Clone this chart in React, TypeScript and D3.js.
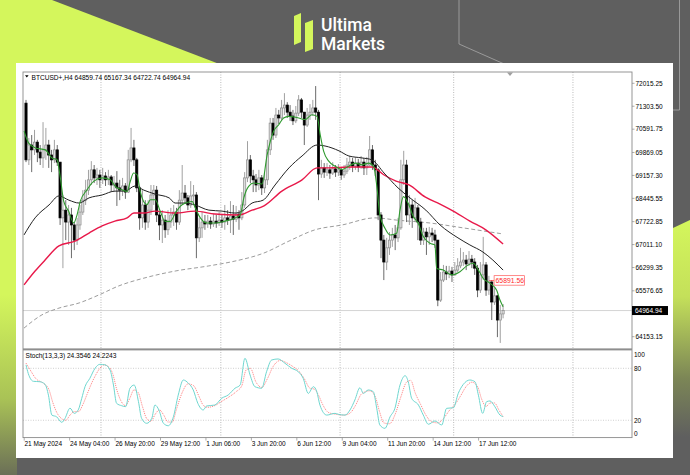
import React from "react";
import * as d3 from "d3";

const W = 690;
const H = 475;

// ---------- data ----------
const symbolLabel = "BTCUSD+,H4";
const lastOHLC = [64859.74, 65167.34, 64722.74, 64964.94];
const stochLabel = "Stoch(13,3,3) 24.3546 24.2243";
const markedLevel = 65891.56;
const firstOpen = 71400;

const closes = [
  69640, 70100, 69950, 70190, 69880, 69700, 69950, 70100, 69790, 69640,
  69950, 69570, 67840, 68080, 67710, 67930, 67620, 67150, 67620, 68020,
  68390, 68700, 69020, 69330, 69080, 69170, 69020, 69140, 69020, 69110,
  68860, 68920, 68770, 68700, 68830, 68640, 69640, 70010, 69640, 68770,
  67840, 68240, 67710, 68080, 68550, 68700, 67930, 67620, 67770, 67470,
  67710, 67930, 68020, 67710, 68390, 68610, 68460, 68240, 68520, 68550,
  67220, 67530, 67710, 67650, 67740, 67650, 67740, 67680, 67770, 67710,
  67840, 67770, 67900, 67800, 67960, 67840, 68240, 69080, 69640, 69140,
  69020, 68860, 69080, 68770, 69020, 69950, 70780, 70410, 71030, 70940,
  71250, 71340, 71120, 71000, 70850, 71090, 71500, 71120, 70720, 71030,
  71120, 71250, 71120, 69200, 69390, 69260, 69330, 69230, 69360, 69260,
  69330, 69170, 69290, 69480, 69570, 69450, 69540, 69420, 69570, 69390,
  69480, 69950, 69480, 69330, 67930, 67150, 66470, 66910, 67150, 67310,
  67220, 67530, 69020, 69480, 67930, 68240, 67840, 68150, 67710, 67150,
  67400, 67250, 67370, 67310, 67150, 65290, 65910, 66160, 66100, 66190,
  66070, 66220, 66350, 66470, 66530, 66410, 66560, 66470, 66280, 65600,
  66070, 66380, 65600, 65850, 65230, 65420, 64670, 64859.74, 64964.94,
];

const highs = [
  71500, 70320, 70410, 70570, 70260, 70100, 70810, 70630, 70260, 69950,
  70260, 70100, 69570, 68550, 68390, 68240, 68150, 67710, 67840, 68240,
  68700, 69020, 69330, 69600, 69480, 69390, 69330, 69390, 69260, 69330,
  69170, 69140, 69290, 69020, 69080, 68920, 69950, 70630, 70260, 69700,
  68830, 68700, 68390, 68390, 68860, 68860, 68830, 68020, 68080, 67930,
  68080, 68150, 68240, 68150, 68700, 69480, 68860, 68550, 68980, 68860,
  68640, 67840, 68020, 67930, 67930, 67870, 67960, 67930, 68020, 67960,
  68240, 68080, 68360, 68240, 68210, 68080, 68640, 69260, 70220, 69790,
  69330, 69200, 69330, 69170, 69260, 70260, 70940, 70940, 71250, 71190,
  71500, 71710, 71430, 71340, 71190, 71310, 71650, 71560, 71120, 71250,
  71370, 71500, 71930, 71190, 69640, 69540, 69540, 69480, 69570, 69480,
  69510, 69420, 69480, 69700, 69760, 69700, 69730, 69670, 69760, 69700,
  69730, 70380, 70100, 69640, 69390, 68020, 67310, 67220, 67400, 67530,
  67620, 67840, 69640, 69920, 69640, 68550, 68390, 68460, 68240, 67840,
  67530, 67530, 67560, 67530, 67470, 67150, 66160, 66380, 66350, 66350,
  66320, 66470, 66590, 66910, 66780, 66690, 66810, 66690, 66590, 66380,
  66470, 67250, 66470, 66040, 65910, 65660, 65450, 65140, 65167.34,
];

const lows = [
  69570, 69480, 69260, 69790, 69570, 69480, 69390, 69640, 69390, 69260,
  69540, 69450, 67620, 66280, 67150, 67000, 66590, 66840, 67000, 67470,
  67930, 68240, 68550, 68860, 68920, 68860, 68770, 68890, 68830, 68860,
  68640, 68640, 68210, 68390, 68520, 68430, 68610, 69570, 69450, 68640,
  67470, 67530, 67470, 67530, 67930, 68240, 67710, 67150, 67060, 67220,
  67310, 67530, 67590, 67470, 67620, 68240, 68270, 68080, 68150, 68240,
  66590, 67090, 67220, 67470, 67530, 67500, 67560, 67530, 67590, 67530,
  67470, 67620, 67370, 67310, 67710, 67470, 67770, 68150, 68950, 68920,
  68640, 68640, 68700, 68550, 68610, 68860, 69790, 70260, 70320, 70750,
  70880, 71030, 70940, 70850, 70720, 70780, 71000, 70940, 70100, 70660,
  70880, 71000, 70880, 68390, 69080, 69080, 69140, 69050, 69170, 69110,
  69140, 69020, 69080, 69200, 69330, 69260, 69330, 69260, 69360, 69170,
  69170, 69450, 69330, 69140, 67770, 66590, 65910, 66220, 66690, 66940,
  66840, 67090, 67470, 68860, 67710, 67620, 67530, 67710, 67150, 67000,
  67000, 66690, 67000, 67090, 66910, 65100, 65230, 65850, 65910, 65970,
  65850, 66040, 66160, 66280, 66350, 66220, 66350, 66280, 66070, 65380,
  65510, 65910, 65420, 65450, 64670, 65140, 64140, 63960, 64722.74,
];

// moving averages: [bar index, price]
const greenMA: [number, number][] = [
  [-0.7, 70540], [0.95, 70160], [3.3, 70010], [6.8, 69950], [9.15, 69700], [10.9, 69650],
  [12.1, 69080], [13.3, 68350], [15, 68050], [16.8, 67680], [18, 67940], [19.1, 68350],
  [21.5, 68710], [23.8, 68970], [26.8, 69080], [29.7, 69020], [31.4, 68820], [33.8, 68710],
  [35.6, 68660], [36.7, 68970], [37.9, 69230], [39.1, 69180], [40.2, 68660], [41.4, 68350],
  [42.6, 68250], [43.8, 68400], [45.5, 68400], [47.3, 68040], [49, 67730], [50.8, 67730],
  [52.6, 67990], [54.3, 68200], [56.1, 68300], [58.5, 68350], [59.6, 68150], [61.4, 67840],
  [63.7, 67680], [66.7, 67680], [69.6, 67730], [71.9, 67780], [73.7, 67840], [75.5, 67940],
  [76.7, 68460], [78.4, 68820], [80.2, 68920], [83.1, 68890], [84.9, 69790], [87.2, 70530],
  [89, 70730], [90.7, 70940], [92.5, 70990], [96, 70940], [98.3, 70890], [100.7, 71040],
  [102.5, 70990], [103.6, 70420], [104.8, 69910], [106.6, 69600], [108.9, 69440], [111.3, 69340],
  [113.6, 69440], [116, 69540], [118.3, 69490], [120.7, 69540], [122.4, 69440], [123.6, 68770],
  [124.6, 67930], [126.4, 67520], [128.2, 67310], [130.5, 67360], [131.7, 68080], [132.9, 68500],
  [134.6, 68290], [136.4, 67880], [138.1, 67670], [139.9, 67260], [142.3, 67050], [144, 67000],
  [144.6, 66270], [146.9, 66220], [149.9, 66070], [152.8, 66170], [155.2, 66350], [157.5, 66430],
  [159.3, 66220], [161, 65960], [163.4, 65810], [165.7, 65600], [166.9, 65290], [168, 65080],
];

const blackMA: [number, number][] = [
  [-0.7, 67310], [3.2, 67840], [8.1, 68240], [11.6, 68520], [15.1, 68390], [18.7, 68300],
  [22.2, 68460], [26.8, 68550], [31.3, 68670], [34.9, 68670], [38.4, 68830], [41.5, 68700],
  [45.4, 68580], [50.4, 68460], [52.5, 68300], [56, 68300], [59.5, 68240], [64.4, 68080],
  [69, 68050], [73.6, 67990], [76.1, 68050], [79.6, 68300], [83.5, 68390], [87.7, 68860],
  [92.6, 69390], [97.2, 69760], [102.5, 70100], [105.3, 70070], [110.2, 69920], [113.7, 69760],
  [118.3, 69700], [121.8, 69640], [126.1, 69230], [131, 68770], [135.2, 68460], [140.8, 68080],
  [145.8, 67620], [152.1, 67220], [156.3, 67000], [160.9, 66780], [164.4, 66530], [168, 66220],
];

const redMA: [number, number][] = [
  [-0.7, 65760], [3.2, 66190], [6.7, 66530], [11.6, 66970], [17.3, 67120], [22.2, 67370],
  [26.8, 67590], [31.3, 67740], [35.6, 67840], [38, 67990], [41.5, 67990], [45.4, 68050],
  [52.5, 67990], [59.5, 68050], [66.5, 67960], [75, 67930], [79.6, 68080], [83.8, 68210],
  [90.1, 68670], [97.2, 69020], [102.5, 69390], [106.7, 69390], [113.7, 69420], [121.8, 69420],
  [126.1, 69170], [130.3, 68980], [134.9, 68860], [140.5, 68490], [145.8, 68270], [151.1, 68020],
  [156.3, 67740], [161.9, 67470], [168, 67030],
];

const grayMA: [number, number][] = [
  [-0.7, 64420], [5.6, 64830], [11.6, 65040], [18.7, 65200], [25.7, 65450], [32.7, 65730],
  [41.5, 65970], [52.5, 66190], [64.4, 66350], [73.6, 66500], [83.8, 66750], [92.6, 67120],
  [101.8, 67470], [111.3, 67620], [122.9, 67840], [130.6, 67770], [142.3, 67680], [153.9, 67530],
  [168, 67340],
];

// stochastic: [bar index, value]
const stochMain: [number, number][] = [
  [0, 84], [0.8, 74], [2.6, 65], [4.9, 64.5], [6.7, 61.5], [7.9, 49], [9.1, 26], [10.8, 24],
  [12.6, 17.6], [13.7, 22], [15.5, 34], [17, 28], [18.4, 32], [19.6, 45], [20.8, 59], [22.5, 68.5],
  [24.3, 80], [26, 84.6], [27.8, 84], [29.6, 78], [30.8, 60.7], [31.9, 39.6], [33.7, 36.8],
  [35.1, 35.7], [36.6, 57], [38.1, 60.7], [39.6, 41.5], [40.7, 22.3], [42.5, 16.5], [44.3, 22.3],
  [45.4, 37.6], [46.8, 31.9], [48.4, 16.5], [50.1, 13.7], [51.9, 24], [53.6, 49], [55.4, 66.5],
  [57.2, 62.7], [58.9, 55], [60.5, 39.6], [62.4, 31.9], [63.6, 36.5], [66.5, 37.6], [68.9, 45.4],
  [71.2, 49.2], [73.6, 57], [75.4, 60.7], [77.1, 91.6], [78.9, 72.3], [80.6, 58.8], [83, 57],
  [84.7, 76], [86.5, 89.6], [88.8, 90.8], [91.2, 85.8], [93.6, 80], [95.9, 76], [97.6, 68.5],
  [99.4, 51], [101.2, 58.8], [102.4, 53], [103.5, 37.6], [105.9, 26], [108.8, 28], [110, 26.9],
  [112.3, 26], [114.1, 31.9], [115.8, 43.4], [117.6, 57.6], [118.8, 51], [120.5, 55], [122.3, 53],
  [123.5, 33.8], [124.6, 14.5], [126.4, 10.7], [128.2, 24], [129.9, 33.8], [131.7, 60.7],
  [133.5, 71.5], [134.6, 64.5], [135.8, 45.4], [138.2, 37.6], [139.9, 26], [141.7, 15.4],
  [144, 19.2], [146.4, 14.5], [148.1, 33.8], [150.5, 34.5], [152.2, 51], [154, 61.5], [156.3, 66.5],
  [158.1, 64.5], [159.3, 49], [160.8, 28], [162.2, 41.5], [163.4, 42.3], [165.1, 35.7],
  [166.9, 26], [168, 24.35],
];

const stochSignal: [number, number][] = [
  [0, 86], [1.5, 78], [3.5, 68], [6, 63], [8, 56], [9.5, 40], [11, 28], [12.5, 22], [14, 20],
  [15.5, 26], [17, 30], [18.5, 30], [20, 38], [21.5, 50], [23, 62], [24.5, 72], [26, 80],
  [27.5, 84], [29, 82], [30.5, 74], [32, 55], [33.5, 42], [35, 37], [36.5, 45], [38, 55],
  [39.5, 52], [41, 36], [42.5, 22], [44, 19], [45.5, 27], [47, 32], [48.5, 26], [50, 18],
  [51.5, 18], [53, 33], [55, 52], [57, 62], [59, 60], [61, 47], [62.5, 37], [64, 35], [66.5, 37],
  [69, 42], [71.5, 47], [74, 53], [76, 60], [77.5, 78], [79, 80], [81, 64], [83, 58], [85, 68],
  [87, 82], [89.5, 89], [92, 86], [94, 82], [96, 77], [98, 68], [100, 57], [101.5, 56], [103, 49],
  [104.5, 38], [106.5, 29], [109, 27], [112, 26], [114, 28], [116, 37], [118, 50], [119.5, 53],
  [121, 54], [123, 47], [124.5, 30], [126, 17], [128, 16], [130, 27], [132, 47], [134, 64],
  [135.5, 66], [137, 52], [139, 38], [141, 25], [143, 18], [145, 17], [147, 22], [149, 31],
  [151, 38], [153, 48], [155, 59], [157, 64], [159, 59], [160.5, 44], [162, 36], [163.5, 40],
  [165, 40], [166.5, 32], [168, 24.22],
];

const priceTicks = [
  72015.25, 71303.5, 70591.75, 69869.05, 69157.3, 68445.55, 67722.85, 67011.1, 66299.35,
  65576.65, 64153.15,
];
const timeLabels: [number, string][] = [
  [0, "21 May 2024"], [16, "24 May 04:00"], [32, "26 May 20:00"], [48, "29 May 12:00"],
  [64, "1 Jun 06:00"], [80, "3 Jun 20:00"], [96, "6 Jun 12:00"], [112, "9 Jun 04:00"],
  [128, "11 Jun 20:00"], [144, "14 Jun 12:00"], [160, "17 Jun 12:00"],
];
const gridBars = [26.4, 68.6, 110.6, 150.6, 192.6];
const stochLevels = [80, 20];
const stochAxis = [100, 80, 20, 0];

// ---------- layout ----------
const plotL = 23;
const plotR = 632;
const plotT = 72;
const mainB = 349;
const stochT = 351;
const stochB = 437.6;

const FONT = "'Liberation Sans', Arial, sans-serif";
const LIME = "#d4f65c";
const BG = "#5f5f5f";

export default function App() {
  const x = d3.scaleLinear().domain([0, 168]).range([26, 503.1]);
  const y = d3.scaleLinear().domain([64153.15, 72015.25]).range([336.7, 83.3]);
  const ys = d3.scaleLinear().domain([0, 100]).range([stochB, stochT]);

  const maLine = d3
    .line<[number, number]>()
    .x((d) => x(d[0]))
    .y((d) => y(d[1]))
    .curve(d3.curveMonotoneX);
  const stLine = d3
    .line<[number, number]>()
    .x((d) => x(d[0]))
    .y((d) => ys(d[1]))
    .curve(d3.curveMonotoneX);

  const candles = closes.map((c, i) => {
    const o = i === 0 ? firstOpen : i === closes.length - 1 ? lastOHLC[0] : closes[i - 1];
    return { i, o, h: highs[i], l: lows[i], c };
  });

  const lastClose = closes[closes.length - 1];
  const yLast = y(lastClose);
  const yMark = y(markedLevel);
  const xLast = x(closes.length - 1);

  return (
    <svg
      width={W}
      height={H}
      viewBox={`0 0 ${W} ${H}`}
      style={{ position: "absolute", left: 0, top: 0, display: "block" }}
      fontFamily={FONT}
    >
      <defs>
        <linearGradient id="leftStrip" x1="0" y1="0" x2="0" y2="1">
          <stop offset="0" stopColor={LIME} />
          <stop offset="0.62" stopColor={LIME} />
          <stop offset="0.84" stopColor="#a9c256" />
          <stop offset="1" stopColor="#6b6f57" />
        </linearGradient>
        <linearGradient id="rightStrip" x1="0" y1="0" x2="0" y2="1">
          <stop offset="0" stopColor={LIME} />
          <stop offset="0.3" stopColor="#c4e05a" />
          <stop offset="0.62" stopColor="#7c8656" />
          <stop offset="0.85" stopColor={BG} />
          <stop offset="1" stopColor={BG} />
        </linearGradient>
        <clipPath id="mainClip">
          <rect x={plotL} y={plotT} width={plotR - plotL} height={mainB - plotT} />
        </clipPath>
        <clipPath id="stochClip">
          <rect x={plotL} y={stochT} width={plotR - plotL} height={stochB - stochT} />
        </clipPath>
      </defs>

      {/* background */}
      <rect x={0} y={0} width={W} height={H} fill={BG} />
      <polygon points="0,0 52,0 235,70 0,70" fill={LIME} />
      <rect x={0} y={0} width={17} height={H} fill="url(#leftStrip)" />
      <polygon points="673,228 690,220 690,475 673,475" fill="url(#rightStrip)" />
      <polyline points="459,0 459,44 545,82" fill="none" stroke="#a8a8a8" strokeWidth={0.8} />
      <polyline points="672,110 679.5,110 679.5,0" fill="none" stroke="#a8a8a8" strokeWidth={0.8} />

      {/* logo */}
      <polygon points="294,16 301,13 301,42 294,45" fill={LIME} />
      <polygon points="305,23 313,20 313,49 305,52" fill={LIME} />
      <text x={321} y={30.5} fontSize={17.5} fontFamily="Roboto, 'Open Sans', sans-serif" fontWeight={500} fill="#ffffff">
        Ultima
      </text>
      <text x={321} y={49.5} fontSize={17.5} fontFamily="Roboto, 'Open Sans', sans-serif" fontWeight={500} fill="#ffffff">
        Markets
      </text>

      {/* white panel */}
      <rect x={16} y={63} width={657} height={395} fill="#ffffff" />

      {/* vertical grid */}
      {gridBars.map((g) => (
        <line
          key={`g${g}`}
          x1={x(g)}
          x2={x(g)}
          y1={plotT}
          y2={stochB}
          stroke="#a8a8a8"
          strokeWidth={0.8}
          strokeDasharray="1,1.5"
        />
      ))}

      {/* stoch levels */}
      {stochLevels.map((lv) => (
        <line
          key={`lv${lv}`}
          x1={plotL}
          x2={plotR}
          y1={ys(lv)}
          y2={ys(lv)}
          stroke="#c4c4c4"
          strokeWidth={0.8}
          strokeDasharray="1,1.5"
        />
      ))}

      {/* current price line */}
      <line x1={plotL} x2={plotR} y1={yLast} y2={yLast} stroke="#cfcfcf" strokeWidth={0.9} />

      {/* main chart */}
      <g clipPath="url(#mainClip)">
        <path d={maLine(grayMA) || ""} fill="none" stroke="#9c9c9c" strokeWidth={1} strokeDasharray="4,2.5" />
        {candles.map((d) => {
          const bull = d.c >= d.o;
          const top = y(Math.max(d.o, d.c));
          const bot = y(Math.min(d.o, d.c));
          const cx = x(d.i);
          return (
            <g key={d.i}>
              <line x1={cx} x2={cx} y1={y(d.h)} y2={y(d.l)} stroke={bull ? "#969696" : "#5a5a5a"} strokeWidth={0.9} />
              <rect
                x={cx - 1.1}
                y={top}
                width={2.2}
                height={Math.max(0.8, bot - top)}
                fill={bull ? "#dcdcdc" : "#000000"}
                stroke={bull ? "#8c8c8c" : "#000000"}
                strokeWidth={0.7}
              />
            </g>
          );
        })}
        <path d={maLine(redMA) || ""} fill="none" stroke="#e8194a" strokeWidth={1.4} />
        <path d={maLine(blackMA) || ""} fill="none" stroke="#222222" strokeWidth={1} />
        <path d={maLine(greenMA) || ""} fill="none" stroke="#2e9a2e" strokeWidth={1.1} />
      </g>

      {/* marked level label */}
      <line x1={xLast - 14} x2={xLast - 9} y1={yMark} y2={yMark} stroke="#ff3b3b" strokeWidth={0.8} />
      <rect x={xLast - 9} y={yMark - 5} width={30.5} height={9.5} fill="#ffffff" stroke="#ff5a5a" strokeWidth={0.7} />
      <text x={xLast - 7.5} y={yMark + 2.4} fontSize={6.8} fill="#ff2a2a">
        {markedLevel.toFixed(2)}
      </text>

      {/* chart shift marker */}
      <polygon points={`${507},${plotT + 0.5} ${513},${plotT + 0.5} ${510},${plotT + 4}`} fill="#a0a0a0" />

      {/* stochastic */}
      <g clipPath="url(#stochClip)">
        <path d={stLine(stochSignal) || ""} fill="none" stroke="#ff6f6f" strokeWidth={0.9} strokeDasharray="1,1" />
        <path d={stLine(stochMain) || ""} fill="none" stroke="#6fd6cf" strokeWidth={1} />
      </g>

      {/* frames */}
      <rect x={plotL} y={plotT} width={plotR - plotL} height={stochB - plotT} fill="none" stroke="#8a8a8a" strokeWidth={0.9} />
      <rect x={plotL} y={mainB - 0.6} width={plotR - plotL} height={2} fill="#8e8e8e" />

      {/* header texts */}
      <polygon points="25,75.3 28.6,75.3 26.8,77.6" fill="#000" />
      <text x={31.5} y={79.6} fontSize={6.6} fill="#000">
        {`${symbolLabel}  ${lastOHLC.map((v) => v.toFixed(2)).join(" ")}`}
      </text>
      <text x={25.5} y={357.8} fontSize={6.6} fill="#000">
        {stochLabel}
      </text>

      {/* price axis */}
      {priceTicks.map((p) => (
        <g key={`p${p}`}>
          <line x1={plotR} x2={plotR + 2.5} y1={y(p)} y2={y(p)} stroke="#8a8a8a" strokeWidth={0.7} />
          <text x={plotR + 3.5} y={y(p) + 2.3} fontSize={6.5} fill="#000">
            {p.toFixed(2)}
          </text>
        </g>
      ))}
      <rect x={plotR} y={yLast - 4.5} width={36} height={9} fill="#000000" />
      <text x={plotR + 3} y={yLast + 2.3} fontSize={6.5} fill="#ffffff">
        {lastClose.toFixed(2)}
      </text>

      {/* stoch axis */}
      {stochAxis.map((v) => {
        const yy = v === 100 ? ys(v) + 4 : v === 0 ? ys(v) - 4.3 : ys(v);
        return (
          <text key={`s${v}`} x={plotR + 2} y={yy + 2.3} fontSize={6.5} fill="#000">
            {v}
          </text>
        );
      })}

      {/* time axis */}
      {timeLabels.map(([i, t]) => (
        <g key={`t${i}`}>
          <line x1={x(i) - 1.8} x2={x(i) - 1.8} y1={stochB} y2={stochB + 3} stroke="#8a8a8a" strokeWidth={0.7} />
          <text x={x(i) - 1.5} y={446.3} fontSize={6.5} fill="#000">
            {t}
          </text>
        </g>
      ))}
    </svg>
  );
}
